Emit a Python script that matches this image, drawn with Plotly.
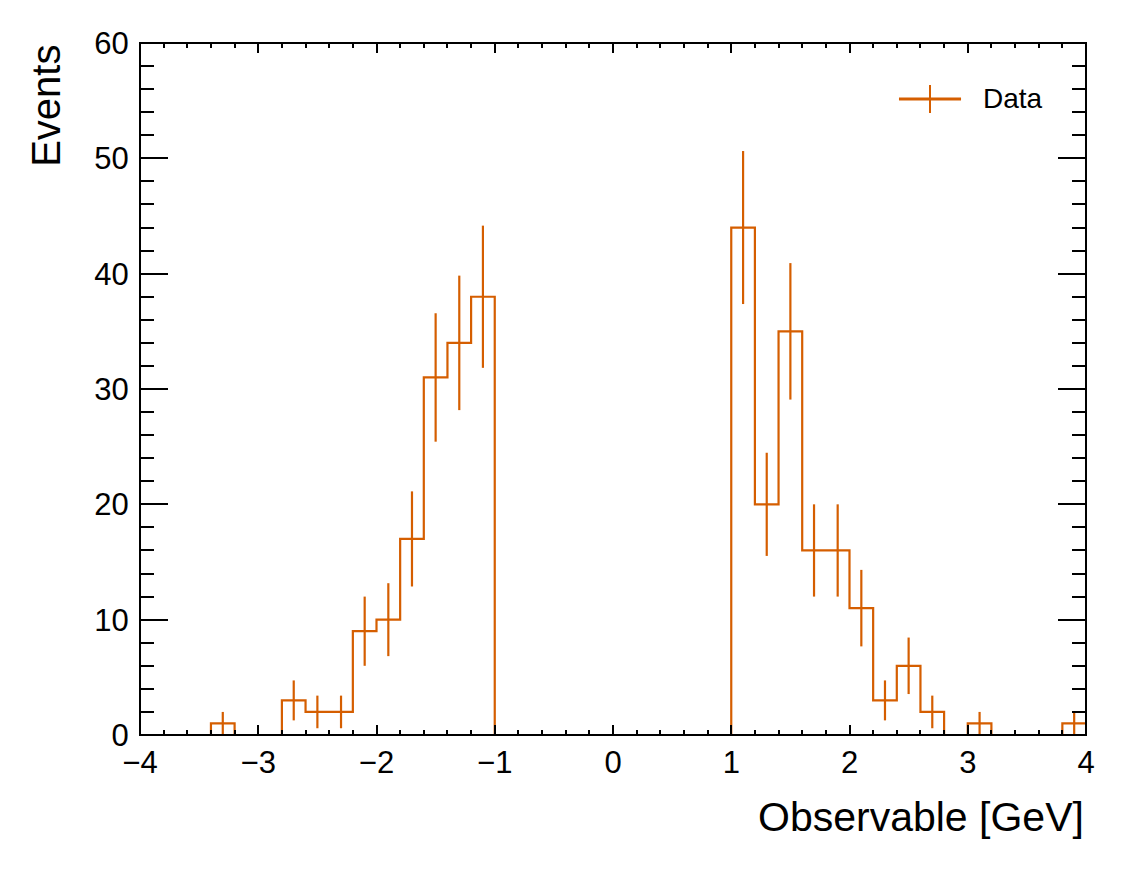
import numpy as np
import plotly.graph_objects as go

# histogram: 40 bins of 0.2 between -4 and 4
bin_edges = np.linspace(-4, 4, 41)
counts = [0, 0, 0, 1, 0, 0, 3, 2, 2, 9,
          10, 17, 31, 34, 38, 0, 0, 0, 0, 0,
          0, 0, 0, 0, 0, 44, 20, 35, 16, 16,
          11, 3, 6, 2, 0, 1, 0, 0, 0, 1]
x_ticks = [-4, -3, -2, -1, 0, 1, 2, 3, 4]
x_ticklabels = ["\u22124", "\u22123", "\u22122", "\u22121", "0", "1", "2", "3", "4"]

color = "#d55e00"
font = "Liberation Sans, Arial, Helvetica, sans-serif"

centers = (bin_edges[:-1] + bin_edges[1:]) / 2
nonzero = [i for i, c in enumerate(counts) if c > 0]

fig = go.Figure()

# step outline
fig.add_trace(go.Scatter(
    x=bin_edges, y=counts + [counts[-1]],
    mode="lines", line=dict(color=color, width=2.2, shape="hv"),
    showlegend=False, hoverinfo="skip",
))

# poisson error bars
fig.add_trace(go.Scatter(
    x=centers[nonzero], y=[counts[i] for i in nonzero],
    mode="markers", marker=dict(size=1, color=color, opacity=0),
    error_y=dict(type="sqrt", color=color, thickness=2.2, width=0),
    showlegend=False,
))

axis_common = dict(
    showline=True, linecolor="black", linewidth=1, mirror="ticks",
    ticks="inside", tickcolor="black", tickwidth=2,
    showgrid=False, zeroline=False,
    tickfont=dict(family=font, size=31, color="black"),
)

fig.update_xaxes(
    range=[-4, 4], tickvals=x_ticks, ticktext=x_ticklabels, ticklen=10,
    minor=dict(dtick=0.2, ticklen=5, tickwidth=2, tickcolor="black", ticks="inside"),
    ticklabelstandoff=0,
    **axis_common,
)
fig.update_yaxes(
    range=[0, 60], dtick=10, ticklen=28,
    minor=dict(dtick=2, ticklen=14, tickwidth=2, tickcolor="black", ticks="inside"),
    ticklabelstandoff=4,
    **axis_common,
)

# frame on top of the histogram line
fig.add_shape(type="rect", xref="paper", yref="paper", x0=0, x1=1, y0=0, y1=1,
              line=dict(color="black", width=2), layer="above")

# legend drawn by hand, ROOT style
fig.add_shape(type="line", xref="paper", yref="paper",
              x0=0.8023, x1=0.8679, y0=0.9191, y1=0.9191,
              line=dict(color=color, width=3))
fig.add_shape(type="line", xref="paper", yref="paper",
              x0=0.8351, x1=0.8351, y0=0.8988, y1=0.9393,
              line=dict(color=color, width=2))
fig.add_annotation(text="Data", xref="paper", yref="paper", x=0.8890, y=0.9191,
                   xanchor="left", yanchor="middle", showarrow=False,
                   font=dict(family=font, size=28, color="black"))

# axis titles
fig.add_annotation(text="Events", xref="paper", yref="paper", x=-0.0995, y=1.0,
                   xanchor="center", yanchor="top", textangle=-90, showarrow=False,
                   font=dict(family=font, size=40, color="black"))
fig.add_annotation(text="Observable [GeV]", xref="paper", yref="paper", x=1.0, y=-0.119,
                   xanchor="right", yanchor="middle", showarrow=False,
                   font=dict(family=font, size=41, color="black"))

fig.update_layout(
    width=1127, height=871,
    margin=dict(l=132, r=49, t=35, b=144),
    plot_bgcolor="white", paper_bgcolor="white",
    showlegend=False,
)

fig.write_html("out.html")
